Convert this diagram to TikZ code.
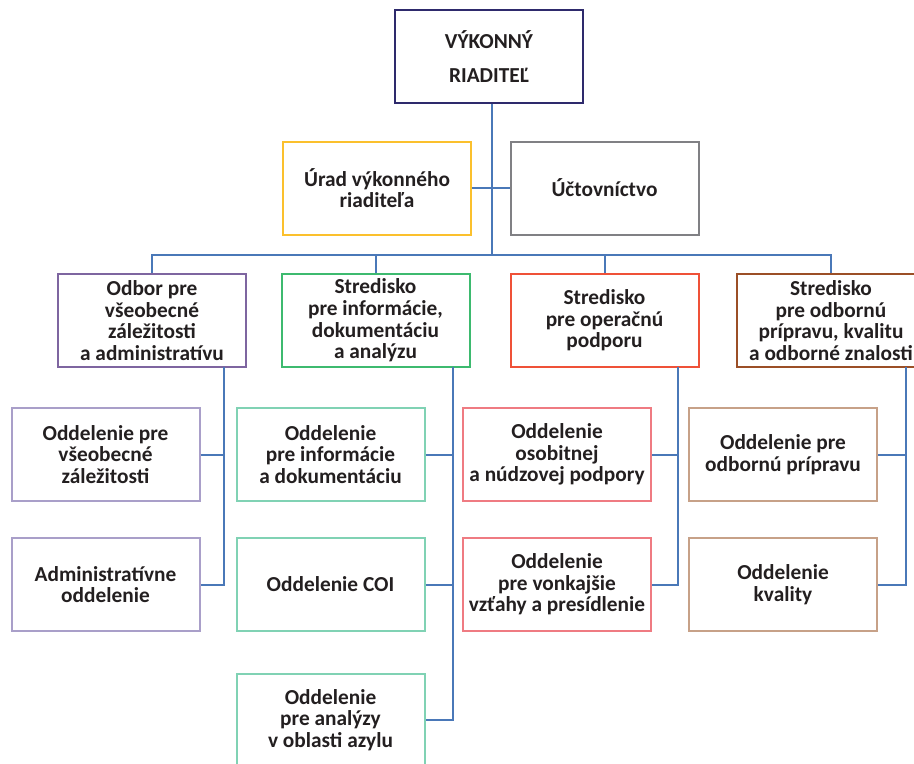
\documentclass[tikz,border=0pt]{standalone}
\usepackage{fontspec}
\setmainfont{Carlito}
\definecolor{cChief}{RGB}{46,42,108}
\definecolor{cOffice}{RGB}{251,192,45}
\definecolor{cAcct}{RGB}{128,128,132}
\definecolor{cAdmin}{RGB}{126,101,160}
\definecolor{cInfo}{RGB}{61,186,111}
\definecolor{cOper}{RGB}{239,81,56}
\definecolor{cTrain}{RGB}{155,79,38}
\definecolor{cAdminL}{RGB}{169,159,201}
\definecolor{cInfoL}{RGB}{128,210,180}
\definecolor{cOperL}{RGB}{239,123,130}
\definecolor{cTrainL}{RGB}{199,161,136}
\definecolor{cLink}{RGB}{74,120,184}
\definecolor{cText}{RGB}{35,31,32}

\begin{document}
\begin{tikzpicture}[x=0.75pt,y=0.75pt,yscale=-1,xscale=1,
  unit/.style={draw=#1, line width=1.5pt, minimum width=141pt, minimum height=69.75pt, inner sep=0pt, align=center, text=cText, font=\bfseries\fontsize{16}{16.2}\selectfont},
  conn/.style={draw=cLink, line width=1.5pt}]
\useasboundingbox (0,0) rectangle (914,764);

%Shape: Rectangle [top]
\node [unit=cChief] (vk) at (489,56.5) {VÝKONNÝ\\[9pt]RIADITEĽ};
\node [unit=cOffice] (urad) at (377,188) {Úrad výkonného\\riaditeľa};
\node [unit=cAcct] (uct) at (604.5,188) {Účtovníctvo};

%Shape: Rectangle [second row]
\node [unit=cAdmin] (odbor) at (152,320.5) {Odbor pre\\všeobecné\\záležitosti\\a administratívu};
\node [unit=cInfo] (info) at (375.5,320.5) {Stredisko\\pre informácie,\\dokumentáciu\\a analýzu};
\node [unit=cOper] (oper) at (604.5,320.5) {Stredisko\\pre operačnú\\podporu};
\node [unit=cTrain] (odb) at (831,320.5) {Stredisko\\pre odbornú\\prípravu, kvalitu\\a odborné znalosti};

%Shape: Rectangle [third row]
\node [unit=cAdminL] (a1) at (105.5,454.5) {Oddelenie pre\\všeobecné\\záležitosti};
\node [unit=cAdminL] (a2) at (105.5,584.5) {Administratívne\\oddelenie};
\node [unit=cInfoL] (b1) at (330.5,454.5) {Oddelenie\\pre informácie\\a dokumentáciu};
\node [unit=cInfoL] (b2) at (330.5,584.5) {Oddelenie COI};
\node [unit=cInfoL] (b3) at (330.5,720) {Oddelenie\\pre analýzy\\v oblasti azylu};
\node [unit=cOperL] (c1) at (557,454.5) {Oddelenie\\osobitnej\\a núdzovej podpory};
\node [unit=cOperL] (c2) at (557,584.5) {Oddelenie\\pre vonkajšie\\vzťahy a presídlenie};
\node [unit=cTrainL] (d1) at (783,454.5) {Oddelenie pre\\odbornú prípravu};
\node [unit=cTrainL] (d2) at (783,584.5) {Oddelenie\\kvality};

\coordinate (bus) at (492,255);
\coordinate (tA) at (224,367);
\coordinate (tB) at (453,367);
\coordinate (tC) at (678,367);
\coordinate (tD) at (906,367);

%Straight Lines
\draw [conn] (vk.south -| bus) -- (bus);
\draw [conn] (urad.east) -- (uct.west);
\draw [conn] (odbor.north) |- (bus) -- (odb.north |- bus) -- (odb.north);
\draw [conn] (info.north) -- (info.north |- bus);
\draw [conn] (oper.north) -- (oper.north |- bus);

%Straight Lines [branches]
\draw [conn] (tA) |- (a2.east);
\draw [conn] (a1.east) -- (a1.east -| tA);
\draw [conn] (tB) |- (b3.east);
\draw [conn] (b1.east) -- (b1.east -| tB);
\draw [conn] (b2.east) -- (b2.east -| tB);
\draw [conn] (tC) |- (c2.east);
\draw [conn] (c1.east) -- (c1.east -| tC);
\draw [conn] (tD) |- (d2.east);
\draw [conn] (d1.east) -- (d1.east -| tD);

\end{tikzpicture}
\end{document}
